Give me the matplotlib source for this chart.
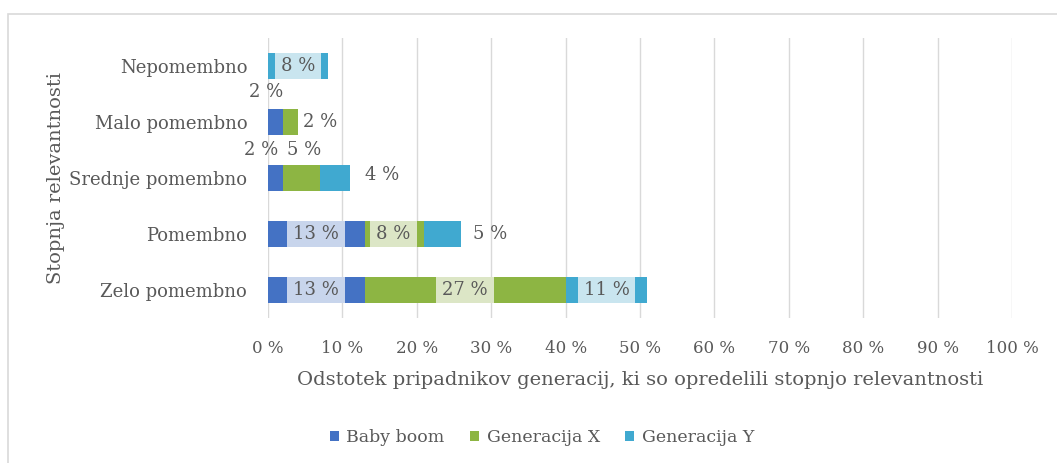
import matplotlib
matplotlib.use("Agg")
import matplotlib.pyplot as plt
from matplotlib.patches import Rectangle
from matplotlib.ticker import FixedLocator

plt.rcParams['font.family'] = ['DejaVu Serif']

# Data
categories = ["Zelo pomembno", "Pomembno", "Srednje pomembno", "Malo pomembno", "Nepomembno"]
series_names = ["Baby boom", "Generacija X", "Generacija Y"]
baby_boom = [13, 13, 2, 2, 0]
generacija_x = [27, 8, 5, 2, 0]
generacija_y = [11, 5, 4, 0, 8]
x_ticks = [0, 10, 20, 30, 40, 50, 60, 70, 80, 90, 100]
x_tick_labels = [f"{t} %" for t in x_ticks]

colors = ["#4472C4", "#8DB543", "#40A9D0"]
box_colors = ["#C8D5EC", "#DCE6C6", "#C9E5EF"]
text_color = "#595959"

W, H = 1057, 463
fig = plt.figure(figsize=(W / 100, H / 100), dpi=100)

# outer chart frame
fig.patches.append(Rectangle((8 / W, -0.05), 1.1, 1 - 14 / H + 0.05,
                             transform=fig.transFigure, fill=False,
                             ec="#D9D9D9", lw=1.2, zorder=0))

ax = fig.add_axes([268 / W, 1 - 318 / H, (1012 - 268) / W, (318 - 38) / H])

series = [baby_boom, generacija_x, generacija_y]
ypos = list(range(len(categories)))
bar_h = 0.46
lefts = [0] * len(categories)
segments = []  # (series index, category index, value, left)
for si, vals in enumerate(series):
    ax.barh(ypos, vals, left=lefts, height=bar_h, color=colors[si],
            label=series_names[si], zorder=2)
    for ci, v in enumerate(vals):
        segments.append((si, ci, v, lefts[ci]))
    lefts = [l + v for l, v in zip(lefts, vals)]

ax.set_xlim(0, 100)
ax.set_ylim(-0.5, len(categories) - 0.5)

# data label placement: (series, category) -> (dx px, dy px, boxed)
label_place = {
    (0, 0): (0, 0, True), (1, 0): (0, 0, True), (2, 0): (0, 0, True),
    (0, 1): (0, 0, True), (1, 1): (-1, 0, True), (2, 1): (47, 0, False),
    (0, 2): (-14, 28, False), (1, 2): (3, 28, False), (2, 2): (47, 3, False),
    (0, 3): (-9, 30, False), (1, 3): (30, 0, False),
    (2, 4): (0, 0, True),
}
boxed_texts = []
for si, ci, v, left in segments:
    if v == 0 or (si, ci) not in label_place:
        continue
    dx, dy, boxed = label_place[(si, ci)]
    t = ax.annotate(f"{v} %", xy=(left + v / 2, ci), xytext=(dx * 0.72, dy * 0.72),
                    textcoords="offset points", ha="center", va="center",
                    fontsize=13, color=text_color, zorder=4)
    if boxed:
        boxed_texts.append((t, si, ci))

# label backgrounds: bar-high boxes a little wider than the text
fig.canvas.draw()
renderer = fig.canvas.get_renderer()
inv = ax.transData.inverted()
for t, si, ci in boxed_texts:
    bb = t.get_window_extent(renderer)
    x0 = inv.transform((bb.x0 - 6, 0))[0]
    x1 = inv.transform((bb.x1 + 6, 0))[0]
    ax.add_patch(Rectangle((x0, ci - bar_h / 2), x1 - x0, bar_h,
                           fc=box_colors[si], ec="none", zorder=3))

ax.xaxis.set_major_locator(FixedLocator(x_ticks))
ax.set_xticklabels(x_tick_labels)
ax.set_yticks(ypos)
ax.set_yticklabels(categories)
ax.tick_params(axis="both", length=0, labelcolor=text_color)
ax.tick_params(axis="x", pad=16, labelsize=12)
ax.tick_params(axis="y", pad=15, labelsize=13)
ax.grid(axis="x", color="#D9D9D9", lw=1, zorder=0)
ax.set_axisbelow(True)
for s in ax.spines.values():
    s.set_visible(False)

ax.set_xlabel("Odstotek pripadnikov generacij, ki so opredelili stopnjo relevantnosti",
              fontsize=14, color=text_color, labelpad=10)
ax.set_ylabel("Stopnja relevantnosti", fontsize=14, color=text_color)
ax.yaxis.set_label_coords((65 - 268) / (1012 - 268), 0.5)

fig.legend(loc="center", bbox_to_anchor=(542 / W, 1 - 438 / H), ncol=3, frameon=False,
           fontsize=12.5, labelcolor=text_color, handlelength=0.52, handleheight=0.52,
           handletextpad=0.45, columnspacing=1.45)

fig.savefig("out.png", dpi=100, facecolor="white")
